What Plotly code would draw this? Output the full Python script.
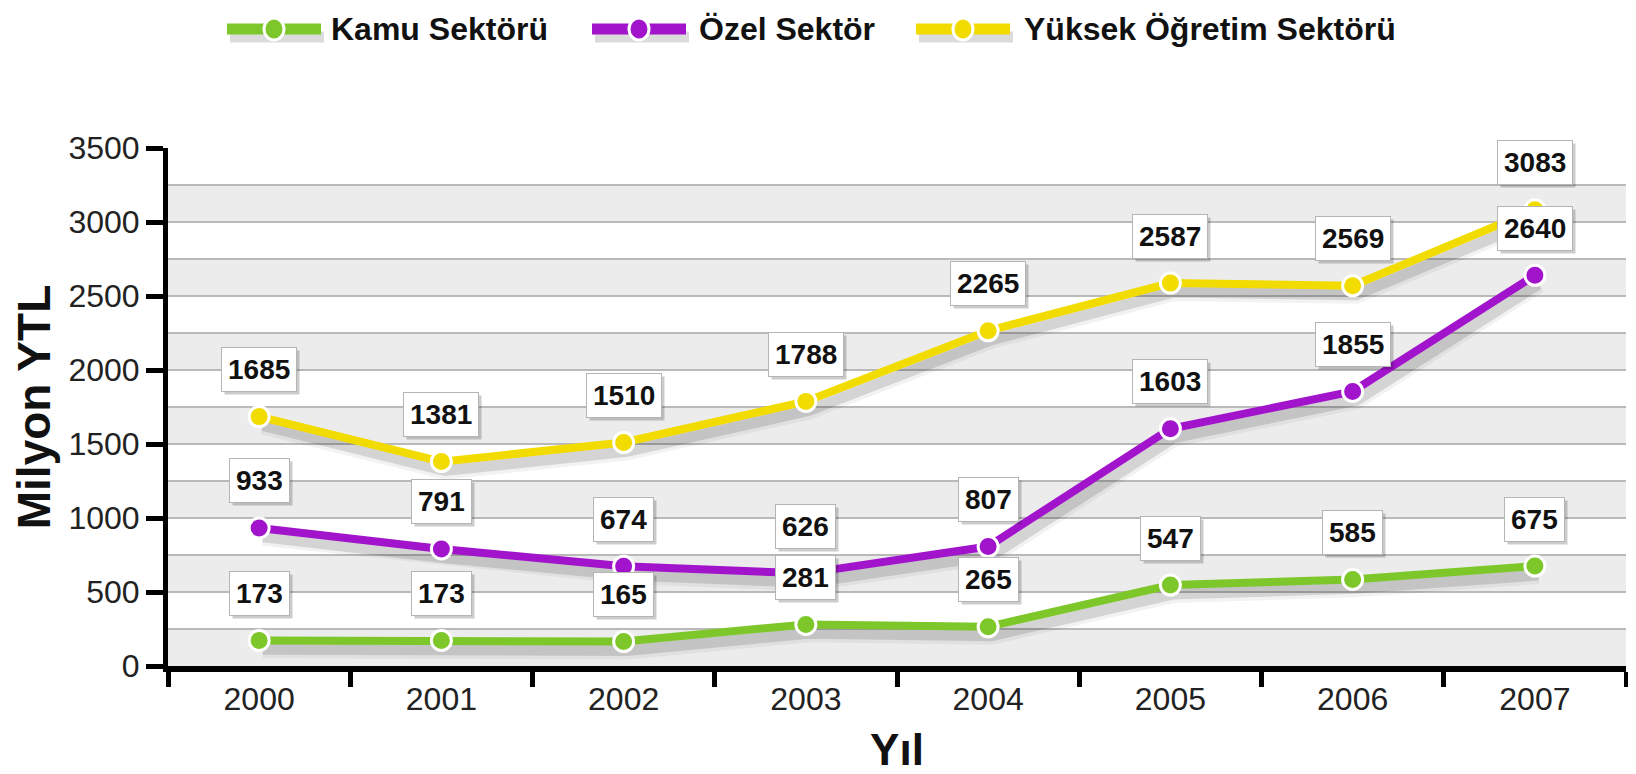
import plotly.graph_objects as go

years = ['2000', '2001', '2002', '2003', '2004', '2005', '2006', '2007']
kamu = [173, 173, 165, 281, 265, 547, 585, 675]
ozel = [933, 791, 674, 626, 807, 1603, 1855, 2640]
yuksek = [1685, 1381, 1510, 1788, 2265, 2587, 2569, 3083]

series = [
    ('Kamu Sektörü', kamu, '#7dc72b'),
    ('Özel Sektör', ozel, '#a214cc'),
    ('Yüksek Öğretim Sektörü', yuksek, '#f2dc00'),
]

y_ticks = [0, 500, 1000, 1500, 2000, 2500, 3000, 3500]
band_edges = [0, 250, 500, 750, 1000, 1250, 1500, 1750, 2000, 2250, 2500, 2750, 3000, 3250, 3500]

FONT = 'Liberation Sans, Arial, sans-serif'
W, H = 1636, 774
ML, MR, MT, MB = 160, 18, 140, 116
PW, PH = W - ML - MR, H - MT - MB


def px_x(p):
    return (p - ML) / PW


def px_y(p):
    return (H - MB - p) / PH


fig = go.Figure()

# soft drop shadows on a hidden overlay axis pair shifted a few pixels
for name, vals, col in series:
    for w, a in [(18, 0.05), (11, 0.12)]:
        fig.add_trace(go.Scatter(
            x=years, y=vals, xaxis='x2', yaxis='y2', mode='lines',
            line=dict(color=f'rgba(0,0,0,{a})', width=w),
            showlegend=False, hoverinfo='skip'
        ))

for name, vals, col in series:
    fig.add_trace(go.Scatter(
        x=years, y=vals, xaxis='x3', yaxis='y3', name=name,
        mode='lines+markers',
        line=dict(color=col, width=8),
        marker=dict(size=20, color=col, line=dict(color='white', width=3)),
        showlegend=False
    ))

# value labels (boxed) with a shadow box behind
annotations = []
for name, vals, col in series:
    for i, v in enumerate(vals):
        annotations.append(dict(
            x=i, y=v, xref='x', yref='y', text=f'<b>{v}</b>', showarrow=False,
            yshift=44, xshift=3,
            font=dict(family=FONT, size=28, color='rgba(0,0,0,0)'),
            bgcolor='rgba(0,0,0,0.2)', borderpad=6, borderwidth=1,
            bordercolor='rgba(0,0,0,0)'
        ))
        annotations.append(dict(
            x=i, y=v, xref='x', yref='y', text=f'<b>{v}</b>', showarrow=False,
            yshift=47,
            font=dict(family=FONT, size=28, color='#111111'),
            bgcolor='white', borderpad=6, borderwidth=1, bordercolor='#b5b5b5'
        ))

# alternating background bands
shapes = []
for k in range(len(band_edges) - 1):
    shapes.append(dict(
        type='rect', xref='paper', yref='y', x0=0, x1=1,
        y0=band_edges[k], y1=band_edges[k + 1],
        fillcolor='#ececec' if k % 2 == 0 else '#ffffff',
        line=dict(width=0), layer='below'
    ))

# hand-made legend (long line symbol with a dot in the middle)
legend_items = [
    (219, 313, 321),
    (584, 678, 689),
    (908, 1002, 1014),
]
ly = px_y(21)
for (name, vals, col), (x0, x1, xt) in zip(series, legend_items):
    shapes.append(dict(type='line', xref='paper', yref='paper',
                       x0=px_x(x0 + 3), x1=px_x(x1 + 3), y0=px_y(29), y1=px_y(29),
                       line=dict(color='rgba(0,0,0,0.14)', width=11)))
    shapes.append(dict(type='line', xref='paper', yref='paper',
                       x0=px_x(x0), x1=px_x(x1), y0=ly, y1=ly,
                       line=dict(color=col, width=11)))
    cx = px_x((x0 + x1) / 2)
    shapes.append(dict(type='circle', xref='paper', yref='paper',
                       xsizemode='pixel', ysizemode='pixel',
                       xanchor=cx, yanchor=ly, x0=-10, x1=10, y0=-11, y1=11,
                       fillcolor=col, line=dict(color='white', width=3)))
    annotations.append(dict(x=px_x(xt), y=ly, xref='paper', yref='paper',
                            xanchor='left', yanchor='middle', showarrow=False,
                            text=f'<b>{name}</b>',
                            font=dict(family=FONT, size=32, color='#111111')))

dy = 60
dx = 0.02
fig.update_layout(
    width=W, height=H,
    margin=dict(l=ML, r=MR, t=MT, b=MB),
    paper_bgcolor='white', plot_bgcolor='white',
    font=dict(family=FONT, color='#222222'),
    shapes=shapes,
    annotations=annotations,
    showlegend=False,
    xaxis=dict(
        type='category', categoryarray=years, range=[-0.5, 7.5], tickson='boundaries',
        ticks='outside', ticklen=15, tickwidth=5, tickcolor='black',
        showline=True, linewidth=6, linecolor='black',
        showgrid=False,
        tickfont=dict(family=FONT, size=32, color='#222222'),
        title=dict(text='<b>Yıl</b>', font=dict(family=FONT, size=44, color='#111111'),
                   standoff=20)
    ),
    yaxis=dict(
        range=[0, 3500], tickvals=y_ticks,
        ticks='outside', ticklen=17, tickwidth=5, tickcolor='black',
        showline=True, linewidth=5, linecolor='black',
        showgrid=True, gridcolor='#b9b9b9', gridwidth=1.5,
        minor=dict(dtick=250, showgrid=True, gridcolor='#b9b9b9', gridwidth=1.5),
        zeroline=False,
        tickfont=dict(family=FONT, size=32, color='#222222'),
        title=dict(text='<b>Milyon YTL</b>', font=dict(family=FONT, size=46, color='#111111'),
                   standoff=12)
    ),
    xaxis2=dict(type='category', categoryarray=years, overlaying='x', anchor='y2',
                range=[-0.5 - dx, 7.5 - dx], visible=False),
    yaxis2=dict(overlaying='y', anchor='x2', range=[dy, 3500 + dy], visible=False),
    xaxis3=dict(type='category', categoryarray=years, overlaying='x', anchor='y3',
                range=[-0.5, 7.5], visible=False),
    yaxis3=dict(overlaying='y', anchor='x3', range=[0, 3500], visible=False),
)

fig.write_html('out.html')
